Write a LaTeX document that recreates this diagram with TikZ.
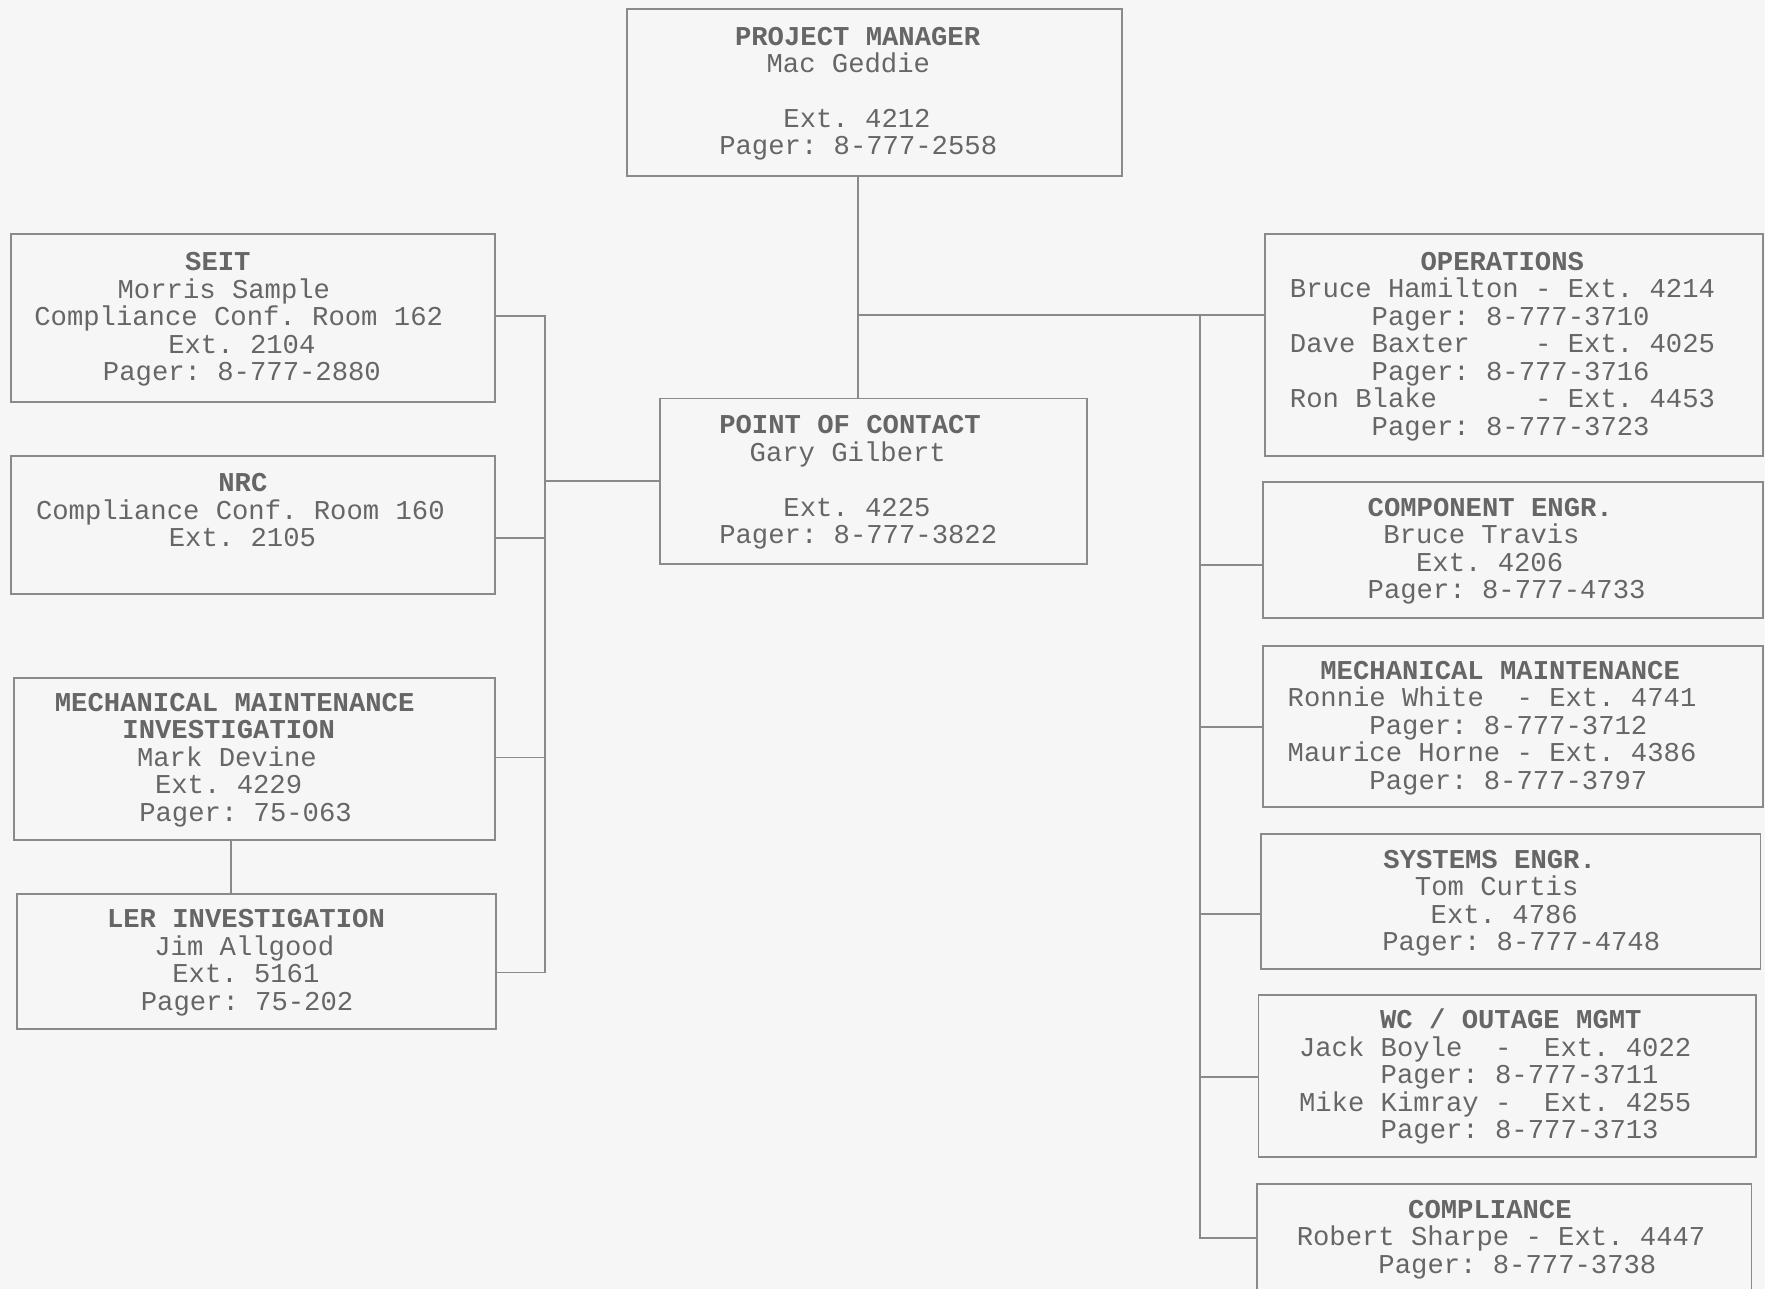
\documentclass[tikz,border=0pt]{standalone}
\usepackage{fontspec}
\setmonofont{Liberation Mono}
\usetikzlibrary{positioning, calc}
\definecolor{orgline}{HTML}{8A8A8A}
\definecolor{orgtext}{HTML}{666666}
\definecolor{orgpaper}{HTML}{F6F6F6}
% offset of a line from the left edge of its box (in picture px)
\newcommand{\ox}[1]{\hspace*{\dimexpr #1pt/2\relax}}
% blank typewriter columns
\newcommand{\sk}[1]{\hspace*{#1\dimexpr 0.6em\relax}}

\begin{document}
\begin{tikzpicture}[
    x=0.5pt, y=-0.5pt,
    font=\ttfamily\fontsize{12.1}{12.2}\selectfont\frenchspacing,
    card/.style={
        draw=orgline, line width=0.8pt, text=orgtext,
        align=left, inner xsep=0pt, inner ysep=0pt,
        execute at begin node={\spaceskip=0.6em\relax\rule{0pt}{10.5pt}},
        execute at end node=\strut,
    },
    link/.style={draw=orgline, line width=0.8pt},
]
\clip (0,0) rectangle (1568,1145);
\fill[orgpaper] (0,0) rectangle (1568,1145);

% ===== Top: project manager and point of contact =====
\node[card, text width=220pt, minimum height=74pt] (pm) at (777,82) {
    \ox{96}\textbf{PROJECT MANAGER}\\
    \ox{124}Mac Geddie\\[12.2pt]
    \ox{139}Ext. 4212\\
    \ox{82}Pager: 8-777-2558
};
\node[card, text width=190pt, minimum height=73.5pt] (poc) at (776,427.5) {
    \ox{53}\textbf{POINT OF CONTACT}\\
    \ox{80}Gary Gilbert\\[12.2pt]
    \ox{110}Ext. 4225\\
    \ox{53}Pager: 8-777-3822
};

% ===== Left column =====
\node[card, text width=215.25pt, minimum height=74.5pt] (seit) at (224.75,282.5) {
    \ox{155}\textbf{SEIT}\\
    \ox{95}Morris Sample\\
    \ox{21}Compliance Conf. Room 162\\
    \ox{140}Ext. 2104\\
    \ox{82}Pager: 8-777-2880
};
\node[card, text width=215pt, minimum height=61.5pt] (nrc) at (225,466.5) {
    \ox{184}\textbf{NRC}\\
    \ox{22}Compliance Conf. Room 160\\
    \ox{140}Ext. 2105\\
    \mbox{}
};
\node[card, text width=213.65pt, minimum height=72pt] (mmi) at (226.4,674) {
    \ox{36}\textbf{MECHANICAL MAINTENANCE}\\
    \ox{96}\textbf{INVESTIGATION}\\
    \ox{109}Mark Devine\\
    \ox{125}Ext. 4229\\
    \ox{111}Pager: 75-063
};
\node[card, text width=212.9pt, minimum height=60pt] (ler) at (228,854) {
    \ox{80}\textbf{LER INVESTIGATION}\\
    \ox{122}Jim Allgood\\
    \ox{138}Ext. 5161\\
    \ox{110}Pager: 75-202
};

% ===== Right column =====
\node[card, text width=221pt, minimum height=98.5pt] (ops) at (1345,306.5) {
    \ox{138}\textbf{OPERATIONS}\\
    \ox{22}Bruce Hamilton - Ext. 4214\\
    \ox{22}\sk{5}Pager: 8-777-3710\\
    \ox{22}Dave Baxter\sk{4}- Ext. 4025\\
    \ox{22}\sk{5}Pager: 8-777-3716\\
    \ox{22}Ron Blake\sk{6}- Ext. 4453\\
    \ox{22}\sk{5}Pager: 8-777-3723
};
\node[card, text width=222pt, minimum height=60.5pt] (comp) at (1344,488.5) {
    \ox{93}\textbf{COMPONENT ENGR.}\\
    \ox{107}Bruce Travis\\
    \ox{136}Ext. 4206\\
    \ox{93}Pager: 8-777-4733
};
\node[card, text width=222pt, minimum height=71.5pt] (mech) at (1344,645.5) {
    \ox{51}\textbf{MECHANICAL MAINTENANCE}\\
    \ox{22}Ronnie White\sk{2}- Ext. 4741\\
    \ox{22}\sk{5}Pager: 8-777-3712\\
    \ox{22}Maurice Horne - Ext. 4386\\
    \ox{22}\sk{5}Pager: 8-777-3797
};
\node[card, text width=222pt, minimum height=60pt] (sys) at (1342,801) {
    \ox{109}\textbf{SYSTEMS ENGR.}\\
    \ox{137}Tom Curtis\\
    \ox{151}Ext. 4786\\
    \ox{108}Pager: 8-777-4748
};
\node[card, text width=221pt, minimum height=72pt] (wc) at (1339,956) {
    \ox{108}\textbf{WC / OUTAGE MGMT}\\
    \ox{36}Jack Boyle\sk{2}-\sk{2}Ext. 4022\\
    \ox{36}\sk{5}Pager: 8-777-3711\\
    \ox{36}Mike Kimray -\sk{2}Ext. 4255\\
    \ox{36}\sk{5}Pager: 8-777-3713
};
\node[card, text width=219.5pt, minimum height=60pt] (compl) at (1336.5,1112) {
    \ox{134}\textbf{COMPLIANCE}\\
    \ox{35}Robert Sharpe - Ext. 4447\\
    \ox{35}\sk{5}Pager: 8-777-3738\\
    \mbox{}
};

% ===== Connectors =====
\coordinate (hub)  at (762,280);
\coordinate (ltop) at (484,281);
\coordinate (lbot) at (484,864);
\coordinate (rtop) at (1066,280);
\coordinate (rbot) at (1066,1100);

% PM -> POC, and across to operations
\draw[link] (pm.south -| hub) -- (poc.north -| hub);
\draw[link] (hub) -- (hub -| ops.west);

% left trunk
\draw[link] (seit.east |- ltop) -- (ltop) -- (lbot) -- (lbot -| ler.east);
\draw[link] (ltop |- poc.west) -- (poc.west);
\foreach \nm/\y in {nrc/478, mmi/673} {
    \coordinate (l-\nm) at (484,\y);
    \draw[link] (l-\nm) -- (l-\nm -| \nm.east);
}
\draw[link] ([xshift=-10.7pt]mmi.south) -- ([xshift=-10.7pt]mmi.south |- ler.north);

% right trunk
\draw[link] (rtop) -- (rbot) -- (rbot -| compl.west);
\foreach \nm/\y in {comp/502, mech/646, sys/812, wc/957} {
    \coordinate (r-\nm) at (1066,\y);
    \draw[link] (r-\nm) -- (r-\nm -| \nm.west);
}

\end{tikzpicture}
\end{document}
